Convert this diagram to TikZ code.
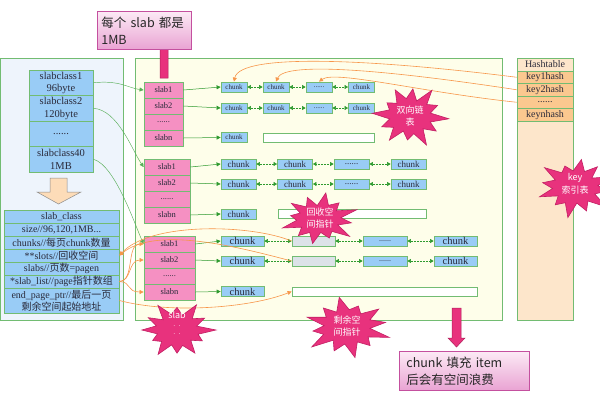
\documentclass[tikz,border=0pt]{standalone}
\usepackage{fontspec}
\setmainfont{Liberation Serif}
\newfontfamily\cjk{Noto Sans CJK SC}
\usetikzlibrary{arrows.meta}
\definecolor{gborder}{HTML}{72BC72}
\definecolor{gline}{HTML}{2E9A2E}
\definecolor{slabpink}{HTML}{F590C2}
\definecolor{chunkblue}{HTML}{99CCF6}
\definecolor{leftbg}{HTML}{EEF4FC}
\definecolor{midbg}{HTML}{FEFEEA}
\definecolor{hashbg}{HTML}{FDE6CB}
\definecolor{keyfill}{HTML}{FBC88F}
\definecolor{orangeline}{HTML}{F7964A}
\definecolor{starfill}{HTML}{E8327D}
\definecolor{starborder}{HTML}{C21F63}
\definecolor{grayfill}{HTML}{DCE2E8}
\definecolor{peach}{HTML}{FDDCB8}
\definecolor{txt}{HTML}{2A2A3A}
\definecolor{callbd}{HTML}{C4509F}
\definecolor{calltop}{HTML}{FCEAF5}
\definecolor{callbot}{HTML}{E9A3D3}
\definecolor{magarrow}{HTML}{E8327D}
\definecolor{magbd}{HTML}{B0205A}
% irregular starburst: cx, cy, rx, ry, start angle
\newcommand\burstshape[5]{%
  \begin{scope}[shift={(#1,#2)}]
  \draw[fill=starfill, draw=starborder, line width=0.6pt]
    (#5:{#3} and {#4})
    \foreach \k/\f in {1/.55, 2/.82, 3/.52, 4/1.0, 5/.56, 6/.75, 7/.5, 8/.92, 9/.55, 10/.8, 11/.53, 12/.97, 13/.56, 14/.72, 15/.52, 16/.9, 17/.55, 18/.85, 19/.5, 20/.98, 21/.56, 22/.78, 23/.53}
      { -- ({#5+\k*15}:{#3*\f} and {#4*\f}) } -- cycle;
  \end{scope}}
\begin{document}
\begin{tikzpicture}[x=1pt,y=-1pt,
  cell/.style={draw=gborder, line width=0.8pt, inner sep=0pt, text=txt, align=center},
  panel/.style={draw=gborder, line width=0.8pt, inner sep=0pt, anchor=north west},
  sccell/.style={cell, fill=chunkblue, minimum width=64pt, minimum height=25.5pt, font=\fontsize{10.5}{12.5}\selectfont},
  tcell/.style={cell, fill=chunkblue, minimum width=115pt, minimum height=13pt, font=\fontsize{10}{12}\selectfont},
  slabcell/.style={cell, fill=slabpink, minimum height=16pt, font=\fontsize{8.5}{9}\selectfont},
  chunkcell/.style={cell, fill=chunkblue, minimum height=10pt},
  barcell/.style={cell, fill=white, minimum height=9pt},
  keycell/.style={cell, fill=keyfill, minimum width=56pt, minimum height=12.5pt, font=\fontsize{10}{11}\selectfont},
  gconn/.style={draw=gline, line width=0.5pt, -{Triangle[width=4pt,length=4pt]}},
  gcurve/.style={draw=gline!80, line width=0.45pt, -{Triangle[width=4pt,length=4pt]}},
  chainlink/.style={draw=gline, line width=0.5pt, densely dotted, {Triangle[width=4pt,length=3.5pt]}-{Triangle[width=4pt,length=3.5pt]}},
  oconn/.style={draw=orangeline, line width=0.6pt, -{Triangle[width=4pt,length=4pt]}},
  startext/.style={inner sep=0pt, text=white, align=center, font=\cjk\fontsize{9}{12.5}\selectfont},
  callout/.style={draw=callbd, line width=0.8pt, top color=calltop, bottom color=callbot, anchor=north west, align=left, inner ysep=2pt, font=\cjk\fontsize{12.5}{17}\selectfont, text=black!85}
]
\useasboundingbox (0,0) rectangle (600,400);

% panels
\node[panel, fill=leftbg, minimum width=123pt, minimum height=262pt] (leftp) at (0,58) {};
\node[panel, fill=midbg, minimum width=367pt, minimum height=262pt] (midp) at (135,58) {};
\node[panel, fill=hashbg, minimum width=56pt, minimum height=262pt] (hashp) at (517,58) {};

% slabclass column
\node[sccell] (sc1) at (61,82.75) {slabclass1\\96byte};
\node[sccell] (sc2) at (61,108.25) {slabclass2\\120byte};
\node[sccell] (scd) at (61,133.75) {......};
\node[sccell] (sc40) at (61,159.25) {slabclass40\\1MB};

% peach arrow
\draw[fill=peach, draw=black!45, line width=0.5pt] (50,178) -- (67,178) -- (67,192) -- (81,192) -- (58.5,204) -- (37,192) -- (50,192) -- cycle;

% slab_class table
\node[tcell] (t0) at (61.5,216.5) {slab\_class};
\node[tcell] (t1) at (61.5,229.5) {size//96,120,1MB...};
\node[tcell] (t2) at (61.5,242.5) {chunks//{\cjk 每页}chunk{\cjk 数量}};
\node[tcell] (t3) at (61.5,255.5) {**slots//{\cjk 回收空间}};
\node[tcell] (t4) at (61.5,268.5) {slabs//{\cjk 页数}=pagen};
\node[tcell] (t5) at (61.5,281.5) {*slab\_list//page{\cjk 指针数组}};
\node[tcell, minimum height=25pt] (t6) at (61.5,300.5) {end\_page\_ptr//{\cjk 最后一页}\\{\cjk 剩余空间起始地址}};

% group 1
\node[slabcell, minimum width=39pt] (a1) at (163.5,90) {slab1};
\node[slabcell, minimum width=39pt] (a2) at (163.5,106) {slab2};
\node[slabcell, minimum width=39pt] (a3) at (163.5,122) {......};
\node[slabcell, minimum width=39pt] (an) at (163.5,138) {slabn};
\begin{scope}[every node/.append style={font=\fontsize{7}{8}\selectfont}]
\node[chunkcell, minimum width=26pt] (a1c1) at (234,87) {chunk};
\node[chunkcell, minimum width=26pt] (a1c2) at (276,87) {chunk};
\node[chunkcell, minimum width=26pt] (a1c3) at (319,87) {......};
\node[chunkcell, minimum width=26pt] (a1c4) at (361.5,87) {chunk};
\node[chunkcell, minimum width=26pt] (a2c1) at (234,108) {chunk};
\node[chunkcell, minimum width=26pt] (a2c2) at (276,108) {chunk};
\node[chunkcell, minimum width=26pt] (a2c3) at (319,108) {......};
\node[chunkcell, minimum width=26pt] (a2c4) at (361.5,108) {chunk};
\node[chunkcell, minimum width=26pt] (anc1) at (234,137.5) {chunk};
\end{scope}
\node[barcell, minimum width=111pt] (anbar) at (318.5,137.5) {};

% group 2
\node[slabcell, minimum width=46pt] (b1) at (167,167) {slab1};
\node[slabcell, minimum width=46pt] (b2) at (167,183) {slab2};
\node[slabcell, minimum width=46pt] (b3) at (167,199) {......};
\node[slabcell, minimum width=46pt] (bn) at (167,215) {slabn};
\begin{scope}[every node/.append style={font=\fontsize{9}{9}\selectfont}]
\node[chunkcell, minimum width=35pt] (b1c1) at (238.5,164) {chunk};
\node[chunkcell, minimum width=35pt] (b1c2) at (295,164) {chunk};
\node[chunkcell, minimum width=35pt] (b1c3) at (351.5,164) {......};
\node[chunkcell, minimum width=35pt] (b1c4) at (408.5,164) {chunk};
\node[chunkcell, minimum width=35pt] (b2c1) at (238.5,184) {chunk};
\node[chunkcell, minimum width=35pt] (b2c2) at (295,184) {chunk};
\node[chunkcell, minimum width=35pt] (b2c3) at (351.5,184) {......};
\node[chunkcell, minimum width=35pt] (b2c4) at (408.5,184) {chunk};
\node[chunkcell, minimum width=35pt] (bnc1) at (238.5,214) {chunk};
\end{scope}
\node[barcell, minimum width=148pt] (bnbar) at (352,214) {};

% group 3
\begin{scope}[every node/.append style={font=\fontsize{9.5}{10}\selectfont}]
\node[slabcell, minimum width=51pt] (c1) at (169.5,244) {slab1};
\node[slabcell, minimum width=51pt] (c2) at (169.5,260) {slab2};
\node[slabcell, minimum width=51pt] (c3) at (169.5,276) {......};
\node[slabcell, minimum width=51pt] (cn) at (169.5,292) {slabn};
\end{scope}
\begin{scope}[every node/.append style={font=\fontsize{10.5}{11}\selectfont}]
\node[chunkcell, minimum width=43pt] (c1c1) at (242.5,241) {chunk};
\node[chunkcell, minimum width=43pt, fill=grayfill] (c1c2) at (313.5,241) {};
\node[chunkcell, minimum width=44pt, font=\fontsize{8}{9}\selectfont] (c1c3) at (385,241) {......};
\node[chunkcell, minimum width=43pt] (c1c4) at (455.5,241) {chunk};
\node[chunkcell, minimum width=43pt] (c2c1) at (242.5,261) {chunk};
\node[chunkcell, minimum width=43pt, fill=grayfill] (c2c2) at (313.5,261) {};
\node[chunkcell, minimum width=44pt, font=\fontsize{8}{9}\selectfont] (c2c3) at (385,261) {......};
\node[chunkcell, minimum width=43pt] (c2c4) at (455.5,261) {chunk};
\node[chunkcell, minimum width=43pt] (cnc1) at (242.5,291.5) {chunk};
\end{scope}
\node[barcell, minimum width=185pt] (cnbar) at (384.5,291.5) {};

% hashtable
\node[cell, fill=hashbg, minimum width=56pt, minimum height=13pt, font=\fontsize{10}{11}\selectfont] (h0) at (545,64.5) {Hashtable};
\node[keycell] (h1) at (545,77.25) {key1hash};
\node[keycell] (h2) at (545,89.75) {key2hash};
\node[keycell] (h3) at (545,102.25) {......};
\node[keycell] (h4) at (545,114.75) {keynhash};

% green connectors slab -> chunk
\draw[gconn] (a1.east) -- (a1c1.west);
\draw[gconn] (a2.east) -- (a2c1.west);
\draw[gconn] (an.east) -- (anc1.west);
\draw[gconn] (b1.east) -- (b1c1.west);
\draw[gconn] (b2.east) -- (b2c1.west);
\draw[gconn] (bn.east) -- (bnc1.west);
\draw[gconn] (c1.east) -- (c1c1.west);
\draw[gconn] (c2.east) -- (c2c1.west);
\draw[gconn] (cn.east) -- (cnc1.west);

% chains
\foreach \r in {a1,a2,b1,b2,c1,c2}{
  \draw[chainlink] (\r c1.east) -- (\r c2.west);
  \draw[chainlink] (\r c2.east) -- (\r c3.west);
  \draw[chainlink] (\r c3.east) -- (\r c4.west);
}

% slabclass -> slab groups
\draw[gcurve] (sc1.east) .. controls (120,80) and (128,88) .. (a1.west);
\draw[gcurve] (sc2.east) .. controls (118,110) and (132,150) .. (b1.west);
\draw[gcurve] (sc40.east) .. controls (115,165) and (135,225) .. (c1.west);

% orange: hashtable -> chunks
\draw[oconn] (h1.west) .. controls (380,60) and (240,52) .. (a1c1.north);
\draw[oconn] (h2.west) .. controls (400,72) and (285,60) .. (a1c2.north);
\draw[oconn] (h3.west) .. controls (420,92) and (335,70) .. (a1c3.north);

% orange: slab_class -> group 3
\draw[oconn] (t5.east) .. controls (135,281) and (126,244) .. (c1.west);
\draw[oconn] (t5.east) .. controls (132,281) and (128,260) .. (c2.west);
\draw[oconn] (t5.east) .. controls (132,282) and (126,292) .. (cn.west);
\draw[oconn] (c1c2.west) .. controls (250,224) and (150,222) .. (t3.east);
\draw[oconn] (c2c2.west) .. controls (235,246) and (155,226) .. (t3.east);
\draw[oconn] (t6.east) .. controls (170,314) and (250,308) .. (cnbar.west);

% magenta arrows
\draw[fill=magarrow, draw=magbd, line width=0.5pt] (160,78) -- (160,47) -- (155,47) -- (164,37) -- (173,47) -- (168,47) -- (168,78) -- cycle;
\draw[fill=magarrow, draw=magbd, line width=0.5pt] (452,308) -- (461,308) -- (461,338) -- (465,338) -- (456.5,347) -- (448,338) -- (452,338) -- cycle;

% callouts
\node[callout, minimum width=94pt, minimum height=38pt, inner xsep=4pt, text width=86pt] (cap1) at (97,11) {每个 slab 都是\\1MB};
\node[callout, minimum width=130pt, minimum height=39pt, inner xsep=7pt, text width=116pt] (cap2) at (399,351) {chunk 填充 item\\后会有空间浪费};

% stars
\burstshape{410}{116}{39}{32}{5}
\node[startext] (s1) at (410,116) {双向链\\表};
\burstshape{319}{219}{40}{27}{-20}
\node[startext] (s2) at (320,218) {回收空\\间指针};
\burstshape{575}{187}{41}{31}{40}
\node[startext] (s3) at (575,184) {key\\索引表};
\burstshape{177}{330}{39}{29}{-60}
\node[startext, anchor=north] (s4) at (177,311) {slab\\[-4pt]{\scriptsize .\ \ .}\\[-5pt]{\scriptsize .\ \ .}};
\burstshape{347}{327}{46}{31}{80}
\node[startext] (s5) at (347,326) {剩余空\\间指针};
\end{tikzpicture}
\end{document}
